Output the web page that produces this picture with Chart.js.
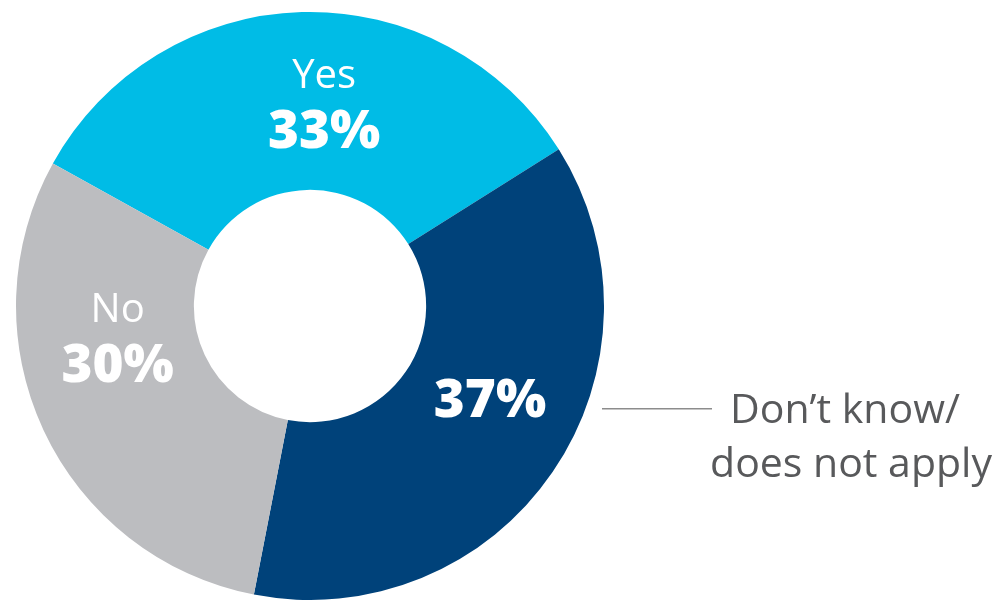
<!DOCTYPE html>
<html>
<head>
<meta charset="utf-8">
<script src="https://cdn.jsdelivr.net/npm/chart.js@4.4.1/dist/chart.umd.min.js"></script>
<style>
  html, body { margin: 0; padding: 0; background: #fff; }
  #wrap { width: 1005px; height: 600px; }
</style>
</head>
<body>
<div id="wrap"><canvas id="donut"></canvas></div>
<script>
const categories = ['Yes', 'Don’t know/ does not apply', 'No'];
const shares = [33, 37, 30];
const sliceColors = ['#00bce6', '#00427a', '#bcbdc0'];
const showName = [true, false, true];

// where each label block sits: degrees clockwise from top, distance from centre
const labelSpots = [
  { angle: 4, dist: 202 },
  { angle: 117, dist: 202 },
  { angle: -99.5, dist: 195 }
];

const sliceLabels = {
  id: 'sliceLabels',
  afterDraw(chart) {
    const ctx = chart.ctx;
    const meta = chart.getDatasetMeta(0);
    ctx.save();
    ctx.textAlign = 'center';
    ctx.textBaseline = 'alphabetic';
    meta.data.forEach(function (arc, i) {
      const a = labelSpots[i].angle * Math.PI / 180;
      const cx = arc.x + Math.sin(a) * labelSpots[i].dist;
      const cy = arc.y - Math.cos(a) * labelSpots[i].dist;
      ctx.fillStyle = '#ffffff';
      const pct = shares[i] + '%';
      if (showName[i]) {
        ctx.font = '400 40px "Open Sans"';
        ctx.fillText(categories[i], cx, cy - 16);
        ctx.font = '800 53px "Open Sans"';
        ctx.fillText(pct, cx, cy + 44);
      } else {
        ctx.font = '800 53px "Open Sans"';
        ctx.fillText(pct, cx, cy + 19);
        // callout to the right
        const lineY = cy + 11;
        const x0 = arc.x + arc.outerRadius - 2;
        const x1 = x0 + 110;
        ctx.strokeStyle = '#8c8c8c';
        ctx.lineWidth = 1.5;
        ctx.beginPath();
        ctx.moveTo(x0, lineY);
        ctx.lineTo(x1, lineY);
        ctx.stroke();
        const parts = categories[i].split('/ ');
        ctx.fillStyle = '#58595b';
        ctx.font = '400 41px "Open Sans"';
        ctx.fillText(parts[0] + '/', x1 + 133, lineY + 14);
        ctx.fillText(parts[1], x1 + 139, lineY + 68);
      }
    });
    ctx.restore();
  }
};

const ctx = document.getElementById('donut').getContext('2d');
new Chart(ctx, {
  type: 'doughnut',
  data: {
    labels: categories,
    datasets: [{
      data: shares,
      backgroundColor: sliceColors,
      borderWidth: 0
    }]
  },
  options: {
    responsive: true,
    maintainAspectRatio: false,
    animation: false,
    cutout: '39.5%',
    rotation: -61,
    layout: { padding: { left: 16, top: 12, right: 401, bottom: 0 } },
    plugins: {
      legend: { display: false },
      tooltip: { enabled: false }
    }
  },
  plugins: [sliceLabels]
});
</script>
</body>
</html>
